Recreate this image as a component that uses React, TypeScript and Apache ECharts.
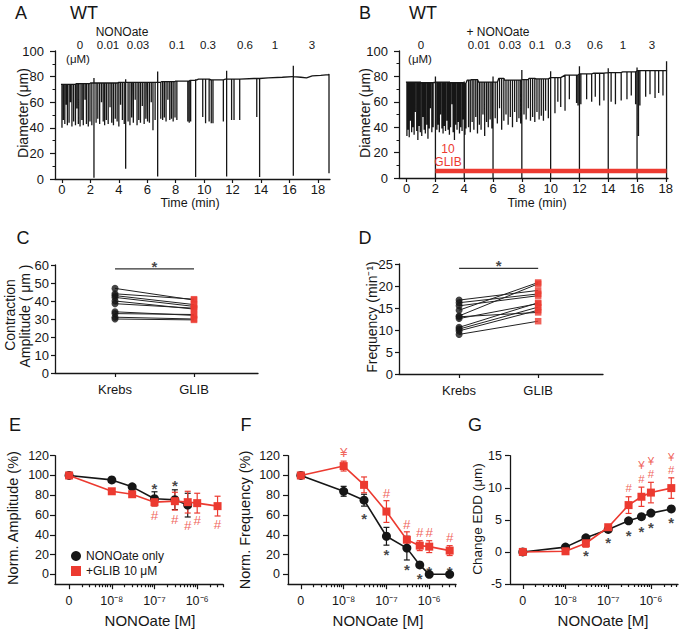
import React, { useEffect, useRef } from 'react';
import * as echarts from 'echarts';

const FONT = '"Liberation Sans", Arial, Helvetica, sans-serif';
const INK = '#161616';
const RED = '#ec3a30';

// ---------- Panel A: WT diameter trace (time in min, diameter in µm) ----------
const A_baseline: number[][] = [[-0.07, 74], [1, 74.5], [2, 75], [3, 75], [4, 75.5], [5, 75.5], [6, 75.5], [7, 76], [8, 76.5], [9, 77], [9.6, 78], [10.5, 77.5], [11.5, 78], [12.5, 78], [13.5, 78.5], [14.5, 79], [15.5, 79.5], [16.2, 80], [16.8, 79.5], [17.2, 79], [17.6, 80.5], [18.2, 81], [18.75, 81.5]];
// [time, upward peak, downward minimum] solution-change artefacts
const A_artifacts: number[][] = [[2.25, 79, 1], [4.48, 78, 8], [6.73, 84, 2], [9.4, 78, 1.5], [11.58, 84.5, 2], [13.9, 79, 1.5], [16.27, 88.5, 2.5], [18.78, 82, 4.5]];
// [time, contraction minimum]
const A_spikes: number[][] = [[0.0, 40], [0.1, 46], [0.2, 43], [0.3, 58], [0.38, 42], [0.5, 44], [0.6, 60], [0.7, 41], [0.82, 45], [0.95, 42], [1.05, 55], [1.15, 43], [1.27, 41], [1.4, 46], [1.5, 42], [1.62, 62], [1.72, 43], [1.85, 41], [1.97, 45], [2.1, 42], [2.4, 44], [2.52, 47], [2.65, 43], [2.78, 60], [2.9, 45], [3.0, 42], [3.12, 46], [3.25, 43], [3.38, 56], [3.5, 44], [3.62, 42], [3.75, 47], [3.88, 45], [4.0, 41], [4.12, 58], [4.25, 46], [4.38, 43], [4.65, 45], [4.78, 42], [4.9, 48], [5.02, 44], [5.15, 62], [5.28, 42], [5.4, 46], [5.52, 44], [5.65, 57], [5.78, 43], [5.9, 47], [6.02, 45], [6.15, 44], [6.28, 60], [6.4, 38], [6.55, 46], [6.95, 47], [7.08, 46], [7.2, 48], [7.32, 45], [7.45, 62], [7.58, 46], [7.7, 47], [7.82, 45], [7.95, 48], [8.08, 46], [8.85, 45], [8.95, 44], [9.05, 45], [9.9, 48.5], [10.1, 43.5], [10.35, 45], [10.5, 43.5], [10.62, 43.5], [11.35, 45], [11.93, 46], [12.1, 46], [12.5, 46], [13.7, 48.5]];

// ---------- Panel B: WT + GLIB trace ----------
const B_baseline: number[][] = [[-0.05, 75.5], [1, 75], [2, 75.5], [3, 75], [4, 74.5], [4.2, 77], [4.5, 77.5], [5, 75.5], [6, 75.5], [6.4, 78.5], [6.8, 77], [8, 77.5], [8.5, 78.5], [9, 78], [10, 79], [11, 81], [12, 82], [13, 82.5], [14, 83], [15, 83.5], [16, 84.5], [17, 84.5], [18.1, 84.5]];
const B_artifacts: number[][] = [[2, 80, 0], [4, 76, 0], [6, 80, 0], [8, 85, 0], [10, 84, 0], [12, 88, 0], [14, 86.5, 0], [16, 87, 0], [18.05, 92, 0]];
const B_spikes: number[][] = [[0.02, 33], [0.1, 38], [0.18, 32], [0.27, 45], [0.35, 36], [0.44, 40], [0.52, 34], [0.6, 52], [0.7, 37], [0.78, 30], [0.87, 41], [0.95, 36], [1.05, 33], [1.13, 48], [1.22, 38], [1.3, 35], [1.4, 42], [1.48, 31], [1.57, 39], [1.65, 55], [1.75, 36], [1.84, 40], [2.1, 38], [2.18, 42], [2.27, 36], [2.35, 50], [2.45, 39], [2.53, 35], [2.62, 41], [2.7, 37], [2.8, 45], [2.88, 38], [2.97, 34], [3.05, 40], [3.15, 58], [3.23, 36], [3.32, 30], [3.4, 42], [3.5, 38], [3.58, 44], [3.67, 35], [3.75, 40], [3.85, 37], [3.93, 46], [4.05, 34], [4.12, 39], [4.3, 40], [4.42, 36], [4.55, 44], [4.67, 38], [4.8, 48], [4.92, 35], [5.05, 42], [5.17, 38], [5.3, 50], [5.42, 33], [5.55, 44], [5.67, 40], [5.8, 46], [5.92, 39], [6.15, 47], [6.3, 43], [6.45, 55], [6.6, 38], [6.75, 45], [6.9, 50], [7.05, 42], [7.2, 48], [7.35, 40], [7.5, 52], [7.65, 44], [7.8, 47], [7.92, 43], [8.15, 50], [8.3, 46], [8.45, 55], [8.6, 45], [8.75, 48], [8.9, 44], [9.05, 52], [9.2, 46], [9.35, 49], [9.5, 45], [9.65, 53], [9.84, 47], [10.3, 51], [10.5, 60], [10.7, 56], [11.0, 53], [11.3, 62], [11.8, 59], [11.9, 57], [12.1, 58], [12.5, 62], [12.85, 60], [13.1, 64], [13.4, 57], [13.7, 61], [14.2, 60], [14.5, 58], [14.9, 61], [15.3, 62], [15.6, 65], [15.9, 58], [16.0, 60], [16.1, 33], [16.2, 57], [16.6, 64], [16.9, 66], [17.25, 63], [17.5, 67], [17.8, 65]];
const B_glibBar: number[][] = [[2, 5.5], [18.05, 5.5]];
const TIME_TICKS = [0, 2, 4, 6, 8, 10, 12, 14, 16, 18];
const CONC_LABELS = ['0', '0.01', '0.03', '0.1', '0.3', '0.6', '1', '3'];

// ---------- Panels C & D: paired Krebs -> GLIB ----------
const PAIR_CATS = ['Krebs', 'GLIB'];
const C_krebs = [47, 44, 43, 42, 40, 38.5, 34, 33, 31, 30];
const C_glib = [40.5, 41, 38, 37, 35.5, 36, 32, 32.5, 30, 29.5];
const D_krebs = [16.8, 16.2, 15.5, 14.5, 13.2, 13, 12.6, 10.6, 10.2, 9.8, 9];
const D_glib = [19, 18.2, 17.8, 20.8, 20.5, 14, 16, 16.2, 15.2, 14.5, 12];

// ---------- Panels E, F, G: concentration-response ----------
const CONC = [0, 1e-8, 3e-8, 1e-7, 3e-7, 6e-7, 1e-6, 3e-6];
const E_only = [100, 95.5, 88.5, 76.5, 75.5, 70];
const E_onlyErr = [1, 1, 1.5, 7, 10, 12];
const E_glib = [100, 84, 81, 73, 74, 73, 72, 69];
const E_glibErr = [1, 1, 1.5, 4, 9, 11, 10, 10];
const E_stars = [[1e-7, 90], [3e-7, 92.5]];
const E_hash = [[1e-7, 59], [3e-7, 55], [6e-7, 49.5], [1e-6, 54], [3e-6, 50]];

const F_only = [100, 84, 75, 38.5, 26.5, 9.5, 0, 0];
const F_onlyErr = [1.5, 5, 6, 9, 12, 2, 0.5, 0.5];
const F_glib = [100, 109.5, 90.5, 63.5, 35, 29, 28, 24];
const F_glibErr = [1, 5, 8, 11, 8, 5, 6, 5];
const F_stars = [[3e-8, 60], [1e-7, 23], [3e-7, 8], [6e-7, -1], [1e-6, 6], [3e-6, 6]];
const F_hash = [[1e-7, 82], [3e-7, 50], [6e-7, 42.5], [1e-6, 42.5], [3e-6, 37.5]];
const F_yen = [[1e-8, 123]];

const G_only = [0, 0.75, 2.2, 3.5, 4.85, 5.5, 6.05, 6.7];
const G_onlyErr = [0.1, 0.2, 0.3, 0.3, 0.3, 0.3, 0.3, 0.3];
const G_glib = [0, 0.1, 1.35, 3.85, 7.3, 8.6, 9.25, 9.95];
const G_glibErr = [0.1, 0.3, 0.6, 0.4, 1.3, 1.5, 1.6, 1.6];
const G_stars = [[3e-8, -0.1], [1e-7, 1.9], [3e-7, 3], [6e-7, 3.7], [1e-6, 4.3], [3e-6, 5]];
const G_hash = [[3e-7, 9.9], [6e-7, 11.4], [1e-6, 12.1], [3e-6, 12.7]];
const G_yen = [[6e-7, 13.6], [1e-6, 14.25], [3e-6, 14.85]];

const NORM_TICKS = [0, 20, 40, 60, 80, 100, 120];
const NAME_ONLY = 'NONOate only';
const NAME_GLIB = '+GLIB 10 \u03bcM';

// ---------- helpers ----------
// log-like concentration axis: "0" is drawn one decade below 10^-8
const xpos = (c: number) => (c === 0 ? -9 : Math.log10(c));
const SUP: Record<string, string> = { '-': '\u207b', '0': '\u2070', '1': '\u00b9', '2': '\u00b2', '3': '\u00b3', '4': '\u2074', '5': '\u2075', '6': '\u2076', '7': '\u2077', '8': '\u2078', '9': '\u2079' };
const logLabel = (v: number) => {
  const r = Math.round(v);
  if (r <= -9) return '0';
  return '10' + String(r).split('').map((ch) => SUP[ch] || ch).join('');
};
const minorLogTicks = (max: number) => {
  const out: number[] = [];
  for (let d = -9; d <= -6; d++) for (let k = 2; k <= 9; k++) { const v = d + Math.log10(k); if (v < max) out.push(v); }
  return out;
};

function stepTop(base: number[][], t: number) {
  let v = base[0][1];
  for (const [bt, bv] of base) { if (bt <= t) v = bv; else break; }
  return v;
}
function buildTrace(base: number[][], spikes: number[][], artifacts: number[][]) {
  const evs: { t: number; pts: number[][] }[] = [];
  base.forEach(([t, v]) => evs.push({ t, pts: [[t, v]] }));
  spikes.forEach(([t, m]) => { const top = stepTop(base, t); evs.push({ t, pts: [[t, top], [t, m], [t, top]] }); });
  artifacts.forEach(([t, up, down]) => { const top = stepTop(base, t); evs.push({ t, pts: [[t, top], [t, up], [t, down], [t, top]] }); });
  evs.sort((a, b) => a.t - b.t);
  return evs.flatMap((e) => e.pts);
}

function mkAxis(gridIndex: number, min: number, max: number, o: any = {}) {
  return {
    type: 'value', gridIndex, min, max, interval: o.interval, position: o.position,
    axisLine: { show: o.line !== false, onZero: false, lineStyle: { color: INK, width: 1.3 } },
    axisTick: { show: o.ticks !== false, length: o.tickLen ?? 4, customValues: o.tickValues, lineStyle: { color: INK, width: 1.2 } },
    minorTick: o.minor ? { show: true, splitNumber: o.minor, length: 2.5, lineStyle: { color: INK, width: 1 } } : { show: false },
    axisLabel: { show: o.labels !== false, fontSize: o.fontSize ?? 12, fontFamily: FONT, color: INK, margin: o.margin ?? 6, customValues: o.labelValues, formatter: o.formatter, showMinLabel: true, showMaxLabel: true },
    splitLine: { show: false },
  };
}

const text = (x: number, y: number, t: string, size: number, o: any = {}) => ({
  type: 'text', x, y, rotation: o.rot || 0, silent: true, z: 10,
  style: { text: t, fill: o.color || INK, font: `${o.weight || 'normal'} ${size}px ${FONT}`, align: o.align || 'center', verticalAlign: 'middle', lineHeight: o.lh },
});

function errSeries(xi: number, yi: number, vals: number[], errs: number[], color: string) {
  return {
    type: 'custom', xAxisIndex: xi, yAxisIndex: yi, silent: true, z: 2,
    data: vals.map((v, i) => [xpos(CONC[i]), v - errs[i], v + errs[i]]),
    encode: { x: 0, y: [1, 2] },
    renderItem: (_p: any, api: any) => {
      const x = api.value(0);
      const a = api.coord([x, api.value(1)]);
      const b = api.coord([x, api.value(2)]);
      const w = 3;
      const st = { stroke: color, lineWidth: 1.2 };
      return {
        type: 'group', children: [
          { type: 'line', shape: { x1: a[0], y1: a[1], x2: b[0], y2: b[1] }, style: st },
          { type: 'line', shape: { x1: a[0] - w, y1: a[1], x2: a[0] + w, y2: a[1] }, style: st },
          { type: 'line', shape: { x1: b[0] - w, y1: b[1], x2: b[0] + w, y2: b[1] }, style: st },
        ],
      };
    },
  };
}

function markSeries(xi: number, yi: number, pts: number[][], glyph: string, color: string, size: number, dy: number, bold = false) {
  return {
    type: 'scatter', xAxisIndex: xi, yAxisIndex: yi, silent: true, clip: false, z: 6,
    data: pts.map(([c, y]) => [xpos(c), y]),
    symbolSize: 1, itemStyle: { color: 'rgba(0,0,0,0)' },
    label: { show: true, position: 'inside', formatter: glyph, color, fontSize: size, fontWeight: bold ? 'bold' : 'normal', lineHeight: 10, fontFamily: FONT, offset: [0, dy] },
  };
}

function doseSeries(xi: number, yi: number, only: number[], onlyErr: number[], glib: number[], glibErr: number[]) {
  return [
    errSeries(xi, yi, only, onlyErr, INK),
    errSeries(xi, yi, glib, glibErr, RED),
    {
      type: 'line', name: NAME_ONLY, xAxisIndex: xi, yAxisIndex: yi, z: 3,
      data: only.map((v, i) => [xpos(CONC[i]), v]),
      symbol: 'circle', symbolSize: 9, showSymbol: true,
      lineStyle: { color: INK, width: 1.6 }, itemStyle: { color: INK },
    },
    {
      type: 'line', name: NAME_GLIB, xAxisIndex: xi, yAxisIndex: yi, z: 4,
      data: glib.map((v, i) => [xpos(CONC[i]), v]),
      symbol: 'rect', symbolSize: 8, showSymbol: true,
      lineStyle: { color: RED, width: 1.6 }, itemStyle: { color: RED },
    },
  ];
}

function pairSeries(xi: number, yi: number, krebs: number[], glib: number[]) {
  const out: any[] = krebs.map((k, i) => ({
    type: 'line', xAxisIndex: xi, yAxisIndex: yi, silent: true, showSymbol: false, z: 2,
    data: [[1, k], [2, glib[i]]], lineStyle: { color: '#222', width: 1 },
  }));
  out.push({ type: 'scatter', xAxisIndex: xi, yAxisIndex: yi, z: 3, symbol: 'circle', symbolSize: 7, itemStyle: { color: INK }, data: krebs.map((k) => [1, k]) });
  out.push({ type: 'scatter', xAxisIndex: xi, yAxisIndex: yi, z: 3, symbol: 'rect', symbolSize: 6.5, itemStyle: { color: RED }, data: glib.map((g) => [2, g]) });
  return out;
}

function starSeries(xi: number, yi: number, pt: number[]) {
  return {
    type: 'scatter', xAxisIndex: xi, yAxisIndex: yi, data: [pt], symbolSize: 1, itemStyle: { color: 'rgba(0,0,0,0)' }, clip: false, silent: true, z: 6,
    label: { show: true, position: 'inside', formatter: '*', fontSize: 15, fontWeight: 'bold', lineHeight: 10, fontFamily: FONT, color: INK, offset: [0, 3] },
  };
}

function buildOption() {
  const grids = [
    { left: 55, top: 51, width: 275, height: 128 },
    { left: 399, top: 51, width: 269, height: 127 },
    { left: 55, top: 265, width: 203, height: 108 },
    { left: 399, top: 264, width: 204, height: 110 },
    { left: 55, top: 455.7, width: 168, height: 128.5 },
    { left: 288, top: 455.7, width: 168, height: 128.5 },
    { left: 510, top: 455.7, width: 168, height: 128.3 },
  ].map((g) => ({ ...g, containLabel: false, outerBoundsMode: 'none' }));

  const pairFmt = (v: number) => PAIR_CATS[Math.round(v) - 1] || '';
  const E_max = -9.33 + 168 / 42.7;
  const F_max = -9.3 + 168 / 42.8;
  const G_max = -9.3 + 168 / 42.7;

  const xAxis = [
    mkAxis(0, -0.49, 18.85, { tickValues: TIME_TICKS, labelValues: TIME_TICKS, fontSize: 13, margin: 4, tickLen: 4 }),
    mkAxis(1, -0.53, 18.15, { tickValues: TIME_TICKS, labelValues: TIME_TICKS, fontSize: 13, margin: 4, tickLen: 4 }),
    mkAxis(2, 0.24, 2.81, { tickValues: [1, 2], labelValues: [1, 2], formatter: pairFmt, fontSize: 13, margin: 10 }),
    mkAxis(3, 0.24, 2.82, { tickValues: [1, 2], labelValues: [1, 2], formatter: pairFmt, fontSize: 13, margin: 10 }),
    mkAxis(4, -9.33, E_max, { tickValues: [-9, -8, -7, -6], labelValues: [-9, -8, -7, -6], formatter: logLabel, fontSize: 12.5, margin: 10, tickLen: 5 }),
    mkAxis(5, -9.3, F_max, { tickValues: [-9, -8, -7, -6], labelValues: [-9, -8, -7, -6], formatter: logLabel, fontSize: 12.5, margin: 10, tickLen: 5 }),
    mkAxis(6, -9.3, G_max, { tickValues: [-9, -8, -7, -6], labelValues: [-9, -8, -7, -6], formatter: logLabel, fontSize: 12.5, margin: 10, tickLen: 5 }),
    mkAxis(4, -9.33, E_max, { position: 'bottom', line: false, labels: false, tickValues: minorLogTicks(E_max), tickLen: 3 }),
    mkAxis(5, -9.3, F_max, { position: 'bottom', line: false, labels: false, tickValues: minorLogTicks(F_max), tickLen: 3 }),
    mkAxis(6, -9.3, G_max, { position: 'bottom', line: false, labels: false, tickValues: minorLogTicks(G_max), tickLen: 3 }),
  ];
  const yAxis = [
    mkAxis(0, 0, 100, { interval: 20, minor: 2, fontSize: 13, margin: 11, tickLen: 5 }),
    mkAxis(1, 0, 100, { interval: 20, minor: 2, fontSize: 13, margin: 11, tickLen: 5 }),
    mkAxis(2, 0, 60, { interval: 10, fontSize: 13, margin: 6, tickLen: 4 }),
    mkAxis(3, 0, 25, { interval: 5, fontSize: 13, margin: 6, tickLen: 4 }),
    mkAxis(4, -10, 120, { tickValues: NORM_TICKS, labelValues: NORM_TICKS, fontSize: 12.5, margin: 6, tickLen: 5 }),
    mkAxis(5, -10, 120, { tickValues: NORM_TICKS, labelValues: NORM_TICKS, fontSize: 12.5, margin: 8, tickLen: 5 }),
    mkAxis(6, -5, 15, { interval: 5, fontSize: 12.5, margin: 8, tickLen: 5 }),
  ];

  const series: any[] = [
    { type: 'line', xAxisIndex: 0, yAxisIndex: 0, data: buildTrace(A_baseline, A_spikes, A_artifacts), showSymbol: false, silent: true, lineStyle: { color: INK, width: 1.3 } },
    { type: 'line', xAxisIndex: 1, yAxisIndex: 1, data: buildTrace(B_baseline, B_spikes, B_artifacts), showSymbol: false, silent: true, lineStyle: { color: INK, width: 1.3 } },
    { type: 'line', xAxisIndex: 1, yAxisIndex: 1, data: B_glibBar, showSymbol: false, silent: true, z: 5, lineStyle: { color: RED, width: 4.5, cap: 'butt' } },
    ...pairSeries(2, 2, C_krebs, C_glib),
    ...pairSeries(3, 3, D_krebs, D_glib),
    { type: 'line', xAxisIndex: 2, yAxisIndex: 2, data: [[1, 57.8], [2, 57.8]], showSymbol: false, silent: true, lineStyle: { color: '#333', width: 1.2 } },
    { type: 'line', xAxisIndex: 3, yAxisIndex: 3, data: [[1, 24], [2, 24]], showSymbol: false, silent: true, lineStyle: { color: '#333', width: 1.2 } },
    starSeries(2, 2, [1.5, 61]),
    starSeries(3, 3, [1.5, 25.3]),
    ...doseSeries(4, 4, E_only, E_onlyErr, E_glib, E_glibErr),
    ...doseSeries(5, 5, F_only, F_onlyErr, F_glib, F_glibErr),
    ...doseSeries(6, 6, G_only, G_onlyErr, G_glib, G_glibErr),
    markSeries(4, 4, E_stars, '*', INK, 15, 3, true),
    markSeries(4, 4, E_hash, '#', RED, 13.5, 0),
    markSeries(5, 5, F_stars, '*', INK, 15, 3, true),
    markSeries(5, 5, F_hash, '#', RED, 13.5, 0),
    markSeries(5, 5, F_yen, '\u00a5', RED, 13.5, 0),
    markSeries(6, 6, G_stars, '*', INK, 15, 3, true),
    markSeries(6, 6, G_hash, '#', RED, 11.5, 0),
    markSeries(6, 6, G_yen, '\u00a5', RED, 11.5, 0),
  ];

  const aConcX = [80, 108, 138, 177, 208, 245, 275, 312];
  const bConcX = [421, 479, 510, 537, 563, 595, 623, 652];
  const graphic: any[] = [
    text(21, 13, 'A', 18), text(84, 13, 'WT', 18),
    text(365, 13, 'B', 18), text(423, 13, 'WT', 18),
    text(23, 238, 'C', 18), text(365, 238, 'D', 18),
    text(15, 425, 'E', 18), text(246, 425, 'F', 18), text(475, 425, 'G', 18),
    text(122, 32, 'NONOate', 12), text(498, 32, '+ NONOate', 12),
    ...CONC_LABELS.map((s, i) => text(aConcX[i], 44.5, s, 11.5, { lh: 11 })),
    ...CONC_LABELS.map((s, i) => text(bConcX[i], 44.5, s, 11.5, { lh: 11 })),
    text(78, 58.5, '(\u03bcM)', 11.5, { lh: 11 }), text(420, 58.5, '(\u03bcM)', 11.5, { lh: 11 }),
    text(448, 149, '10', 12, { color: RED }), text(448, 162, 'GLIB', 12, { color: RED }),
    text(23, 113, 'Diameter (\u03bcm)', 14, { rot: Math.PI / 2 }),
    text(365, 113, 'Diameter (\u03bcm)', 14, { rot: Math.PI / 2 }),
    text(190, 203, 'Time (min)', 12.5), text(537, 203, 'Time (min)', 12.5),
    text(10, 315, 'Contraction', 14, { rot: Math.PI / 2 }),
    text(25, 316, 'Amplitude ( \u03bcm )', 14, { rot: Math.PI / 2 }),
    text(372, 317, 'Frequency (min\u207b\u00b9)', 14, { rot: Math.PI / 2 }),
    text(13, 518, 'Norm. Amplitude (%)', 14.5, { rot: Math.PI / 2 }),
    text(245, 520, 'Norm. Frequency (%)', 14.5, { rot: Math.PI / 2 }),
    text(477, 519, 'Change EDD (\u03bcm)', 13.5, { rot: Math.PI / 2 }),
    text(150, 620, 'NONOate [M]', 15), text(378, 620, 'NONOate [M]', 15), text(603, 620, 'NONOate [M]', 15),
  ];

  return {
    animation: false,
    backgroundColor: '#ffffff',
    textStyle: { fontFamily: FONT },
    grid: grids,
    xAxis,
    yAxis,
    legend: {
      left: 66, top: 545, orient: 'vertical', itemGap: 3, itemWidth: 10, itemHeight: 10, selectedMode: false,
      textStyle: { fontSize: 12, fontFamily: FONT, color: INK, lineHeight: 12 },
      data: [{ name: NAME_ONLY, icon: 'circle' }, { name: NAME_GLIB, icon: 'rect' }],
    },
    series,
    graphic,
  };
}

export default function App() {
  const ref = useRef<HTMLDivElement>(null);
  useEffect(() => {
    if (!ref.current) return;
    const chart = echarts.init(ref.current, null, { renderer: 'svg', width: 685, height: 632 });
    chart.setOption(buildOption() as any);
    return () => chart.dispose();
  }, []);
  return <div ref={ref} style={{ position: 'fixed', left: 0, top: 0, width: 685, height: 632, background: '#fff' }} />;
}
